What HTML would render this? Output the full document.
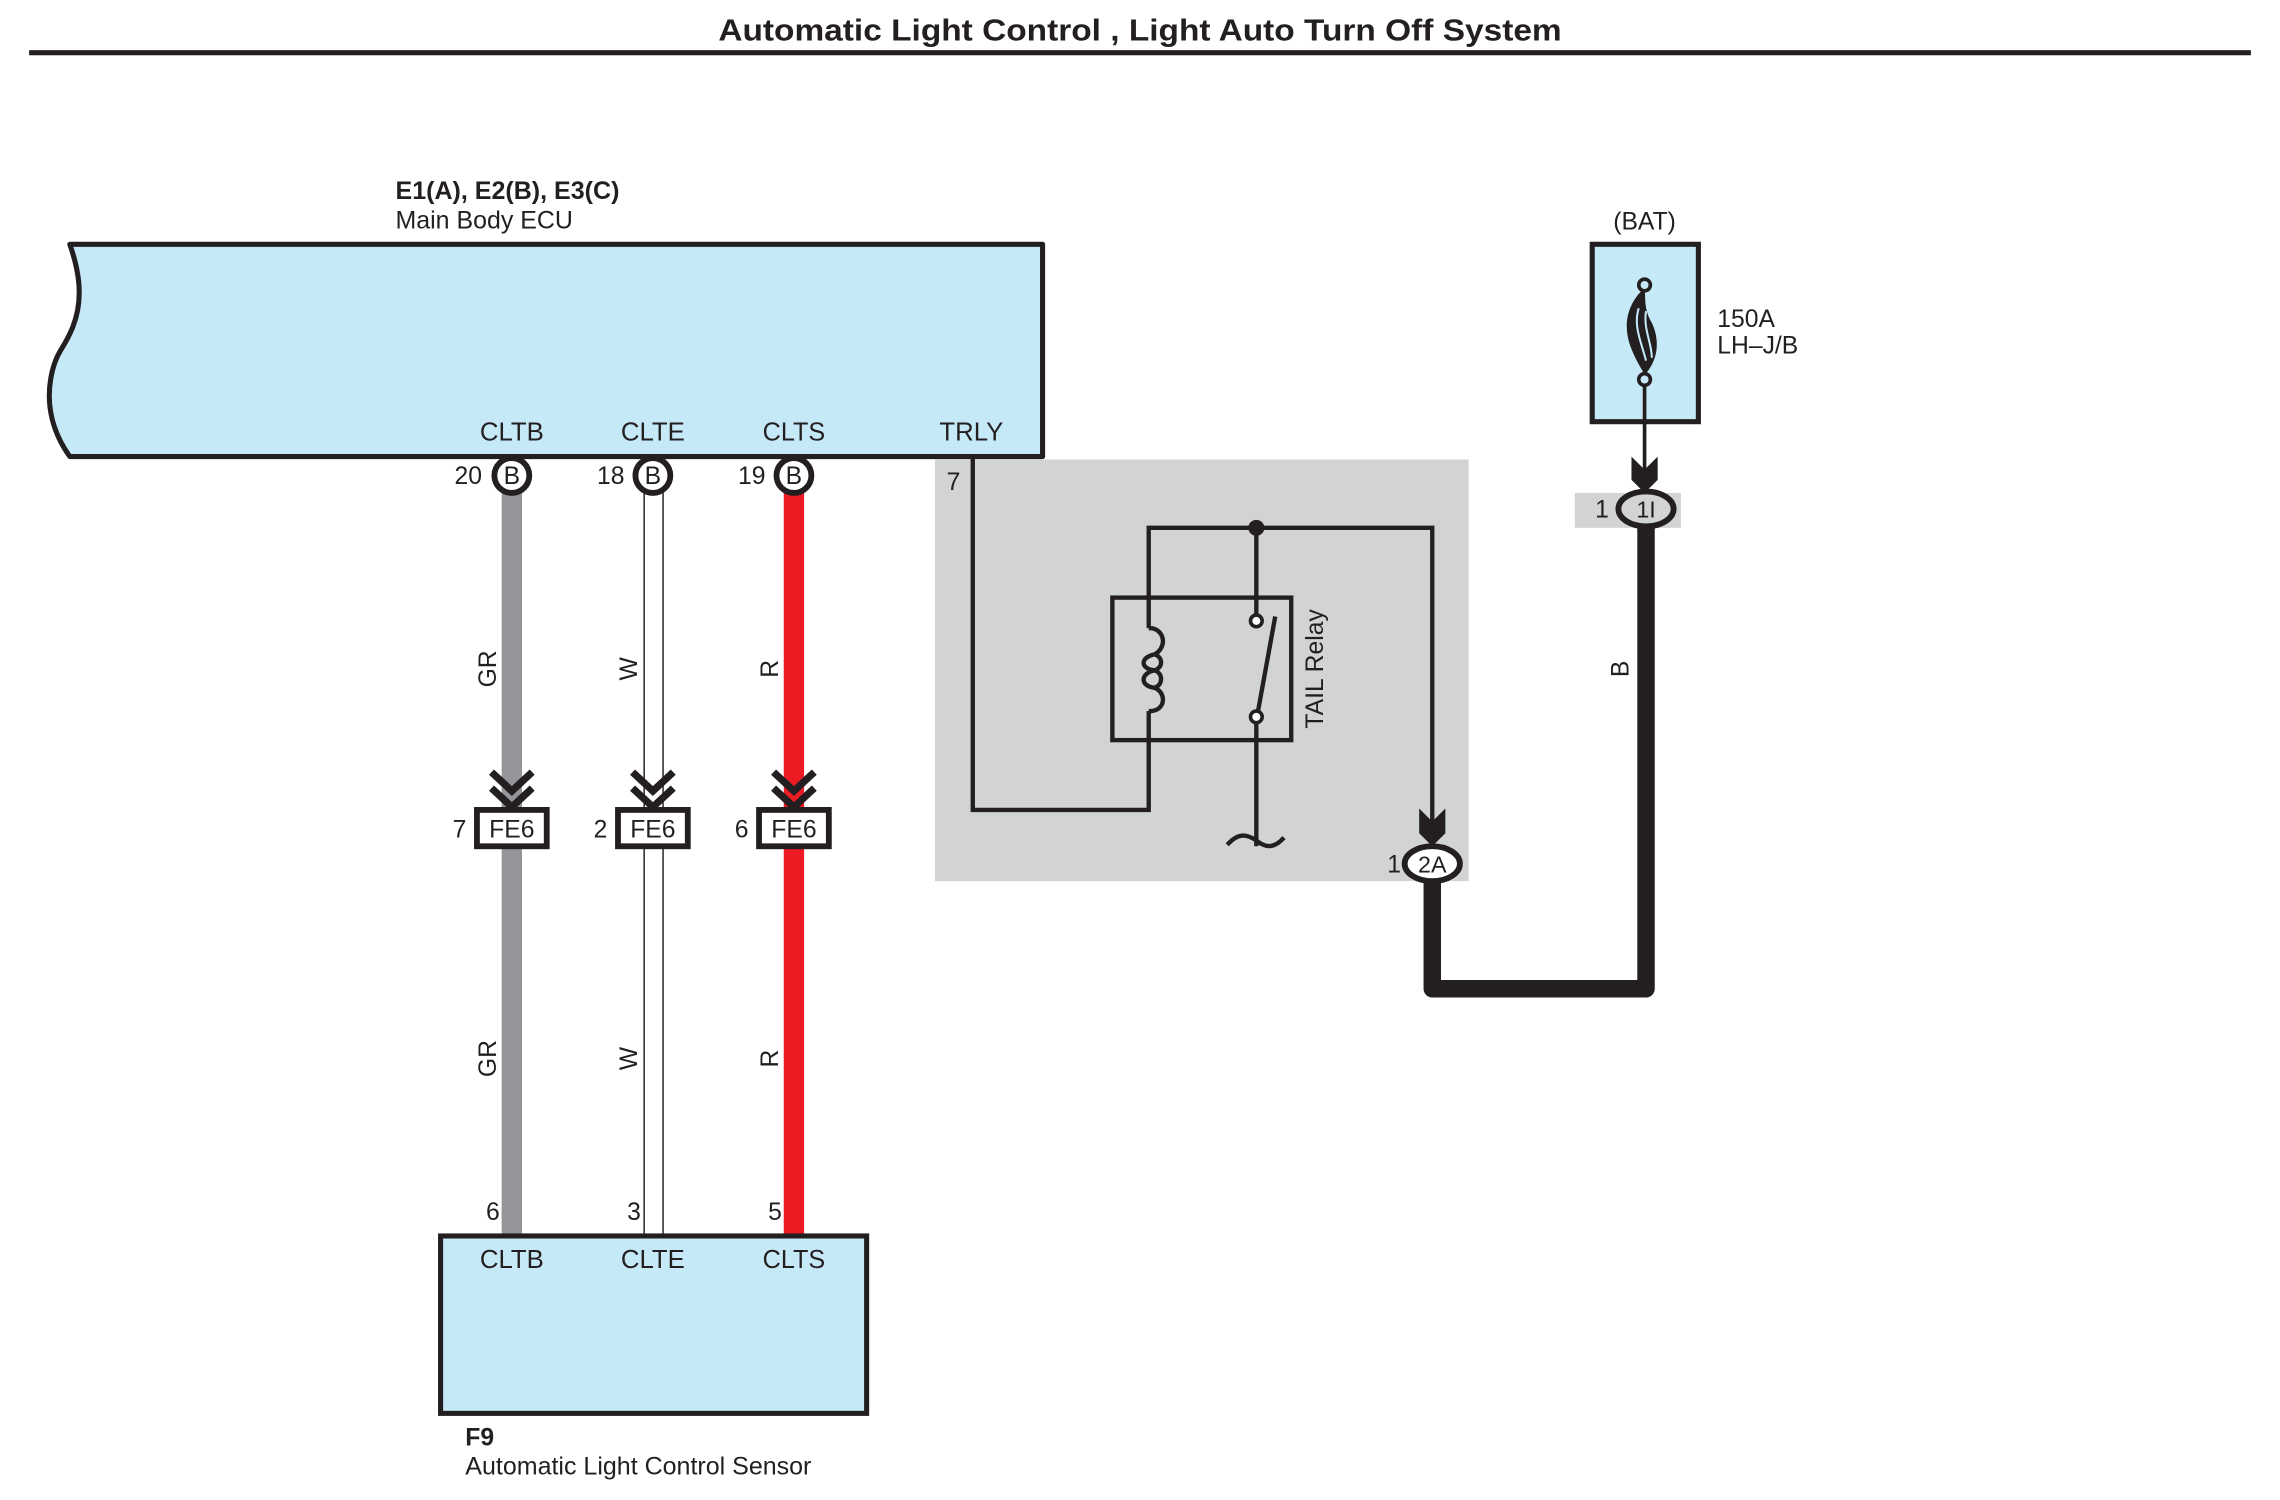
<!DOCTYPE html>
<html><head><meta charset="utf-8"><style>
html,body{margin:0;padding:0;background:#fff;}
svg{display:block;}
text{font-family:"Liberation Sans",sans-serif;fill:#231f20;}
</style></head><body>
<svg width="2280" height="1500" viewBox="0 0 1568 1031.58" xmlns="http://www.w3.org/2000/svg">
<defs>
<g id="chev"><path d="M-14,-16 L0,-3 L14,-16 M-14,-5 L0,8 L14,-5" fill="none" stroke="#231f20" stroke-width="5"/></g>
</defs>
<!-- Title -->
<text x="784" y="28" text-anchor="middle" font-size="21" font-weight="bold" textLength="580" lengthAdjust="spacingAndGlyphs">Automatic Light Control , Light Auto Turn Off System</text>
<rect x="20" y="34.5" width="1528" height="3.5" fill="#231f20"/>

<!-- ECU -->
<text x="272" y="137" font-size="17" font-weight="bold" textLength="154" lengthAdjust="spacingAndGlyphs">E1(A), E2(B), E3(C)</text>
<text x="272" y="157" font-size="17" textLength="122" lengthAdjust="spacingAndGlyphs">Main Body ECU</text>
<path d="M48,168 L717,168 L717,314 L48,314 C38,300 30,280 36,255 C40,240 44,240 50,225 C58,205 54,185 48,168 Z" fill="#c6e9f8" stroke="#231f20" stroke-width="3.5" stroke-linejoin="round"/>
<g font-size="17.5" text-anchor="middle">
<text x="352" y="303" textLength="44" lengthAdjust="spacingAndGlyphs">CLTB</text><text x="449" y="303" textLength="44" lengthAdjust="spacingAndGlyphs">CLTE</text><text x="546" y="303" textLength="43" lengthAdjust="spacingAndGlyphs">CLTS</text><text x="668" y="303" textLength="44" lengthAdjust="spacingAndGlyphs">TRLY</text>
</g>

<!-- wires -->
<rect x="345" y="336" width="14" height="514" fill="#939598"/>
<rect x="443" y="336" width="13" height="514" fill="#fff" stroke="#231f20" stroke-width="1"/>
<rect x="539" y="336" width="14" height="514" fill="#ed1c24"/>

<!-- connectors top -->
<g stroke="#231f20" stroke-width="4" fill="#fff">
<circle cx="352" cy="327" r="12"/><circle cx="449" cy="327" r="12"/><circle cx="546" cy="327" r="12"/>
</g>
<g font-size="17" text-anchor="middle">
<text x="352" y="333">B</text><text x="449" y="333">B</text><text x="546" y="333">B</text>
<text x="322" y="333">20</text><text x="420" y="333">18</text><text x="517" y="333">19</text>
</g>

<!-- chevrons -->
<use href="#chev" x="352" y="547"/><use href="#chev" x="449" y="547"/><use href="#chev" x="546" y="547"/>
<!-- FE6 -->
<g stroke="#231f20" stroke-width="4" fill="#fff">
<rect x="328" y="557" width="48" height="25"/><rect x="425" y="557" width="48" height="25"/><rect x="522" y="557" width="48" height="25"/>
</g>
<g font-size="17" text-anchor="middle">
<text x="352" y="576">FE6</text><text x="449" y="576">FE6</text><text x="546" y="576">FE6</text>
<text x="316" y="576">7</text><text x="413" y="576">2</text><text x="510" y="576">6</text>
</g>
<!-- wire labels -->
<g font-size="17" text-anchor="middle">
<text transform="translate(341,460) rotate(-90)">GR</text>
<text transform="translate(438,460) rotate(-90)">W</text>
<text transform="translate(535,460) rotate(-90)">R</text>
<text transform="translate(341,728) rotate(-90)">GR</text>
<text transform="translate(438,728) rotate(-90)">W</text>
<text transform="translate(535,728) rotate(-90)">R</text>
<text x="339" y="839">6</text><text x="436" y="839">3</text><text x="533" y="839">5</text>
</g>

<!-- sensor -->
<rect x="303" y="850" width="293" height="122" fill="#c6e9f8" stroke="#231f20" stroke-width="3.5"/>
<g font-size="17.5" text-anchor="middle">
<text x="352" y="872" textLength="44" lengthAdjust="spacingAndGlyphs">CLTB</text><text x="449" y="872" textLength="44" lengthAdjust="spacingAndGlyphs">CLTE</text><text x="546" y="872" textLength="43" lengthAdjust="spacingAndGlyphs">CLTS</text>
</g>
<text x="320" y="994" font-size="17" font-weight="bold">F9</text>
<text x="320" y="1014" font-size="17" textLength="238" lengthAdjust="spacingAndGlyphs">Automatic Light Control Sensor</text>

<!-- relay area -->
<rect x="643" y="316" width="367" height="290" fill="#d1d3d4"/>
<text x="651" y="337" font-size="17">7</text>
<g fill="none" stroke="#231f20" stroke-width="3">
<path d="M669,314 L669,557 L790,557 L790,489"/>
<path d="M790,432 L790,363 L985,363 L985,570"/>
<rect x="765" y="411" width="123" height="98"/>
<line x1="864" y1="363" x2="864" y2="422"/>
<line x1="864" y1="496" x2="864" y2="582"/>
<line x1="877" y1="424" x2="865" y2="490"/>
<path d="M790,432 L792,432 C802,434 802,446 794,450 C784,452 784,460 794,461 C784,463 784,472 794,473 C802,476 802,488 792,489 L790,489"/>
<path d="M794,450 C800,452 800,459 794,461 M794,461 C800,463 800,471 794,473"/>
<path d="M844,581 C852,572 858,574 864,578 C870,583 876,584 883,576"/>
</g>
<circle cx="864" cy="363" r="5.5" fill="#231f20"/>
<circle cx="864" cy="427" r="4" fill="#fff" stroke="#231f20" stroke-width="2.5"/>
<circle cx="864" cy="493" r="4" fill="#fff" stroke="#231f20" stroke-width="2.5"/>
<text transform="translate(910,460) rotate(-90)" font-size="17" text-anchor="middle">TAIL Relay</text>

<!-- black thick wire -->
<path d="M985,600 L985,680 L1132,680 L1132,362" fill="none" stroke="#231f20" stroke-width="12" stroke-linejoin="round"/>
<!-- arrow into 2A -->
<path d="M976,556 L985,565 L994,556 L994,573 L985,582 L976,573 Z" fill="#231f20"/>
<ellipse cx="985" cy="594" rx="19" ry="12" fill="#fff" stroke="#231f20" stroke-width="4"/>
<text x="985" y="600" font-size="16" text-anchor="middle">2A</text>
<text x="954" y="600" font-size="17">1</text>

<!-- BAT -->
<text x="1131" y="158" font-size="17" text-anchor="middle">(BAT)</text>
<rect x="1095" y="168" width="73" height="122" fill="#c6e9f8" stroke="#231f20" stroke-width="3.5"/>
<line x1="1131" y1="262" x2="1131" y2="330" stroke="#231f20" stroke-width="2.5"/>
<path d="M1131,198 C1118,210 1116,225 1122,240 C1126,250 1130,255 1131,258 C1140,248 1142,235 1136,222 C1130,212 1132,204 1131,198 Z" fill="#231f20"/>
<path d="M1127,212 C1123,224 1129,236 1132,248 M1132,214 C1130,226 1136,236 1136,246" fill="none" stroke="#c6e9f8" stroke-width="1.4"/>
<circle cx="1131" cy="196" r="4" fill="#c6e9f8" stroke="#231f20" stroke-width="2.5"/>
<circle cx="1131" cy="261" r="4" fill="#c6e9f8" stroke="#231f20" stroke-width="2.5"/>
<text x="1181" y="225" font-size="17">150A</text>
<text x="1181" y="243" font-size="17">LH–J/B</text>
<rect x="1083" y="339" width="73" height="24" fill="#d1d3d4"/>
<path d="M1122,314 L1131,323 L1140,314 L1140,330 L1131,339 L1122,330 Z" fill="#231f20"/>
<ellipse cx="1132" cy="350" rx="19" ry="12" fill="#d1d3d4" stroke="#231f20" stroke-width="4"/>
<text x="1132" y="356" font-size="16" text-anchor="middle">1I</text>
<text x="1097" y="356" font-size="17">1</text>
<text transform="translate(1120,460) rotate(-90)" font-size="17" text-anchor="middle">B</text>
</svg>
</body></html>
